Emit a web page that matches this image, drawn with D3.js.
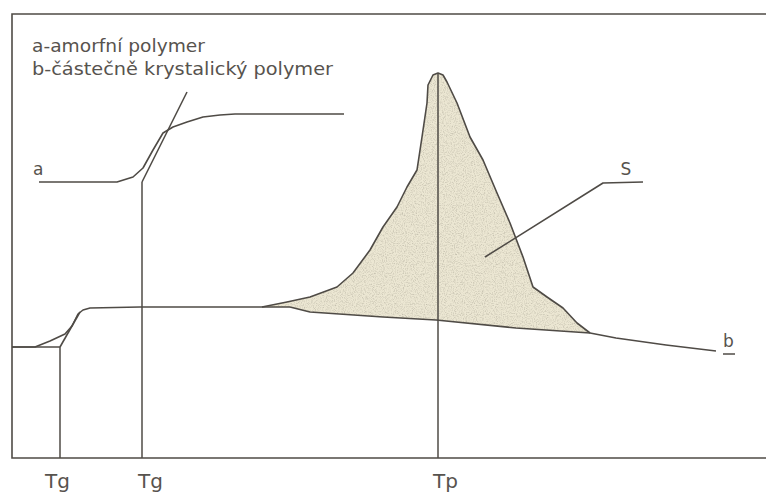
<!DOCTYPE html>
<html>
<head>
<meta charset="utf-8">
<script src="https://cdn.jsdelivr.net/npm/d3@7"></script>
<style>
  html, body { margin: 0; padding: 0; background: #fff; }
  svg { display: block; }
  text { font-family: "DejaVu Sans", sans-serif; fill: #57534e; }
</style>
</head>
<body>
<svg id="chart" width="766" height="495"></svg>
<script>
// DSC thermogram: glass transition of an amorphous polymer (a) and a
// semicrystalline polymer (b) with its melting peak (area S at Tp).
// Units: temperature (x) and heat flow (y) in arbitrary units.

const curveA = [
  [13.5, 138], [52.5, 138], [60.5, 140.5], [65.5, 145], [70.5, 154],
  [75.5, 162.5], [80.5, 165.5], [87.5, 168], [95.5, 170.5], [104, 171.5],
  [111.5, 172], [166, 172]
];
const tangentA = [[65, 138], [87.5, 183]];

const curveB = [
  [0, 55.5], [11.5, 55.5], [19, 58.5], [26.5, 62], [30, 66], [33, 72],
  [35.5, 74], [39, 75], [64, 75.5], [139, 75.5]
];
const tangentB = [[24, 55.5], [34, 73]];

// melting peak outline, left foot to right foot
const peakUpper = [
  [125, 75.5], [137.5, 78], [149, 80.5], [162.5, 85.5], [170.5, 92.5],
  [179, 104], [185.5, 115.5], [192.5, 125.5], [197.5, 135.5], [202.5, 144],
  [205, 160.5], [207.5, 177.5], [208, 186.5], [210.5, 191.5], [213, 192.5],
  [215.5, 191.5], [217.5, 188], [222.5, 177.5], [229, 160.5], [235.5, 149],
  [242.5, 132.5], [249, 117.5], [255.5, 100.5], [260.5, 85.5], [267.5, 80.5],
  [275.5, 75], [282.5, 67.5], [289, 62.5]
];
// interpolated baseline under the peak, continuing as curve b
const baselineB = [
  [139, 75.5], [149, 73], [185.5, 70.5], [212, 69], [252, 65], [289, 62.5],
  [302, 60], [327, 56.5], [352, 53.5]
];

// characteristic temperatures (vertical guides)
const temps = [
  { label: "Tg", x: 24,  top: 55.5,  labelX: 16.5 },
  { label: "Tg", x: 65,  top: 138,   labelX: 63 },
  { label: "Tp", x: 213, top: 192.5, labelX: 210.5 }
];

const legendLines = ["a-amorfní polymer", "b-částečně krystalický polymer"];
const legendWidths = [173, 301];
const leaderS = [[236.5, 100.5], [295.5, 137.5], [315.5, 138]];

const svg = d3.select("#chart");
const x = d3.scaleLinear().domain([0, 377]).range([12, 766]);
const y = d3.scaleLinear().domain([0, 222]).range([458, 14]);

const ink = "#4f4b46";
const line = d3.line().x(d => x(d[0])).y(d => y(d[1]));

// grainy stipple for the peak area
const defs = svg.append("defs");
const grain = defs.append("filter").attr("id", "grain")
  .attr("x", 0).attr("y", 0).attr("width", 1).attr("height", 1);
grain.append("feTurbulence").attr("type", "fractalNoise")
  .attr("baseFrequency", 0.9).attr("numOctaves", 2).attr("seed", 4).attr("result", "noise");
grain.append("feColorMatrix").attr("in", "noise").attr("type", "matrix")
  .attr("values", "0 0 0 0 0.55  0 0 0 0 0.52  0 0 0 0 0.42  0 0 0 -2.2 1.25")
  .attr("result", "dots");
grain.append("feComposite").attr("in", "dots").attr("in2", "SourceGraphic").attr("operator", "in").attr("result", "dotsIn");
grain.append("feMerge").selectAll("feMergeNode")
  .data(["SourceGraphic", "dotsIn"]).join("feMergeNode").attr("in", d => d);

const peakPoly = peakUpper.concat(baselineB.slice(0, 6).reverse());
svg.append("path")
  .attr("d", line(peakPoly) + "Z")
  .attr("fill", "#ece7d3")
  .attr("filter", "url(#grain)");

// frame: top, left and bottom edges
svg.append("path")
  .attr("d", line([[377, 222], [0, 222], [0, 0], [377, 0]]))
  .attr("fill", "none").attr("stroke", ink).attr("stroke-width", 1.6);

// vertical temperature guides
svg.selectAll("line.guide").data(temps).join("line")
  .attr("class", "guide")
  .attr("x1", d => x(d.x)).attr("x2", d => x(d.x))
  .attr("y1", d => y(d.top)).attr("y2", y(0))
  .attr("stroke", ink).attr("stroke-width", 1.5);

// box edge of the lower glass transition
svg.append("path").attr("d", line([[0, 55.5], [24, 55.5]]))
  .attr("fill", "none").attr("stroke", ink).attr("stroke-width", 1.5);

const curves = [curveA, tangentA, curveB, tangentB, peakUpper, baselineB, leaderS];
svg.selectAll("path.curve").data(curves).join("path")
  .attr("class", "curve")
  .attr("d", d => line(d))
  .attr("fill", "none").attr("stroke", ink)
  .attr("stroke-width", 1.6).attr("stroke-linejoin", "round");

// temperature labels under the axis
svg.selectAll("text.temp").data(temps).join("text")
  .attr("class", "temp")
  .attr("x", d => x(d.labelX)).attr("y", y(-15))
  .attr("font-size", 20)
  .text(d => d.label);

// legend
svg.selectAll("text.legend").data(legendLines).join("text")
  .attr("class", "legend")
  .attr("x", x(10)).attr("y", (d, i) => y(203 - i * 11.5))
  .attr("font-size", 18)
  .attr("textLength", (d, i) => legendWidths[i])
  .attr("lengthAdjust", "spacingAndGlyphs")
  .text(d => d);

// curve labels
svg.append("text").attr("x", x(10.5)).attr("y", y(141.5)).attr("font-size", 17).text("a");
svg.append("text").attr("x", x(355.5)).attr("y", y(55.5)).attr("font-size", 17).text("b");
svg.append("path").attr("d", line([[355.5, 52], [361.5, 52]]))
  .attr("stroke", ink).attr("stroke-width", 1.5);
svg.append("text").attr("x", x(307)).attr("y", y(141.5)).attr("font-size", 17)
  .attr("text-anchor", "middle").text("S");
</script>
</body>
</html>
